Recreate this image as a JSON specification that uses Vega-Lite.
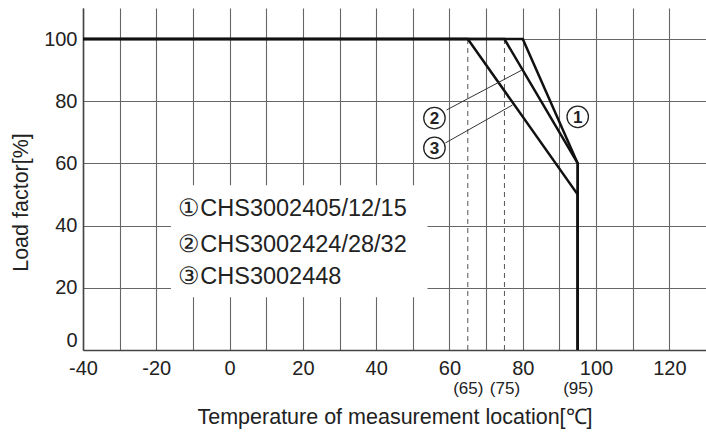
{
  "$schema": "https://vega.github.io/schema/vega-lite/v6.json",
  "width": 623,
  "height": 342,
  "autosize": "none",
  "padding": {"left": 83, "top": 8, "right": 0, "bottom": 83},
  "background": "white",
  "config": {
    "view": {"stroke": null},
    "font": "Liberation Sans",
    "axis": {"labelFont": "Liberation Sans", "titleFont": "Liberation Sans", "labelColor": "#222", "titleColor": "#222", "titleFontWeight": "normal"}
  },
  "datasets": {
    "curves": [
      {"series": "1", "i": 0, "t": -40, "load": 100},
      {"series": "1", "i": 1, "t": 80, "load": 100},
      {"series": "1", "i": 2, "t": 95, "load": 60},
      {"series": "1", "i": 3, "t": 95, "load": 0},
      {"series": "2", "i": 0, "t": -40, "load": 100},
      {"series": "2", "i": 1, "t": 75, "load": 100},
      {"series": "2", "i": 2, "t": 95, "load": 60},
      {"series": "2", "i": 3, "t": 95, "load": 0},
      {"series": "3", "i": 0, "t": -40, "load": 100},
      {"series": "3", "i": 1, "t": 65, "load": 100},
      {"series": "3", "i": 2, "t": 95, "load": 50},
      {"series": "3", "i": 3, "t": 95, "load": 0}
    ],
    "leaders": [
      {"lead": "2", "i": 0, "t": 59.2, "load": 77.2},
      {"lead": "2", "i": 1, "t": 79.7, "load": 90},
      {"lead": "3", "i": 0, "t": 58.9, "load": 66.6},
      {"lead": "3", "i": 1, "t": 77.2, "load": 78.8}
    ],
    "marks": [
      {"num": "1", "t": 95, "load": 75},
      {"num": "2", "t": 55.9, "load": 74.6},
      {"num": "3", "t": 55.9, "load": 65}
    ],
    "legend": [
      {"label": "①CHS3002405/12/15", "t": -14, "load": 45.3},
      {"label": "②CHS3002424/28/32", "t": -14, "load": 33.8},
      {"label": "③CHS3002448", "t": -14, "load": 23.4}
    ],
    "box": [{"t": -16, "t2": 54, "load": 17, "load2": 53}],
    "dashed": [{"t": 65}, {"t": 75}]
  },
  "resolve": {"axis": {"x": "independent"}},
  "layer": [
    {
      "data": {"name": "box"},
      "mark": {"type": "rect", "fill": "white", "stroke": null},
      "encoding": {
        "x": {"field": "t", "type": "quantitative",
          "scale": {"domain": [-40, 130], "nice": false, "zero": false},
          "axis": {
            "orient": "bottom",
            "values": [-40, -30, -20, -10, 0, 10, 20, 30, 40, 50, 60, 70, 80, 90, 100, 110, 120],
            "labelExpr": "datum.value % 20 == 0 ? '' + datum.value : ''",
            "labelFlush": false, "labelOverlap": false,
            "grid": true, "gridColor": "#666", "gridWidth": 1.1,
            "domain": true, "domainColor": "#444", "domainWidth": 1.6,
            "ticks": false, "tickSize": 0,
            "labelFontSize": 20, "labelPadding": 8,
            "title": null
          }
        },
        "x2": {"field": "t2"},
        "y": {"field": "load", "type": "quantitative",
          "scale": {"domain": [0, 110], "nice": false, "zero": false},
          "axis": {
            "values": [0, 10, 20, 30, 40, 50, 60, 70, 80, 90, 100, 110],
            "labelExpr": "datum.value % 20 == 0 && datum.value <= 100 ? '' + datum.value : ''",
            "labelFlush": true, "labelOverlap": false,
            "grid": true, "gridColor": "#666", "gridWidth": 1.1,
            "domain": true, "domainColor": "#444", "domainWidth": 1.6,
            "ticks": false, "tickSize": 0,
            "labelFontSize": 20, "labelPadding": 6,
            "title": "Load factor[%]", "titleFontSize": 21.5, "titlePadding": 11, "titleY": 194
          }
        },
        "y2": {"field": "load2"}
      }
    },
    {
      "data": {"name": "dashed"},
      "mark": {"type": "rule", "color": "#555", "strokeWidth": 1, "strokeDash": [5, 4]},
      "encoding": {
        "x": {"field": "t", "type": "quantitative",
          "axis": {
            "orient": "bottom",
            "values": [65, 75, 95],
            "labelExpr": "'(' + datum.value + ')'",
            "labelFlush": false, "labelOverlap": false,
            "grid": false, "domain": false, "ticks": false, "tickSize": 0,
            "labelFontSize": 17, "labelPadding": 2, "offset": 28,
            "title": "Temperature of measurement location[℃]", "titleFontSize": 21.5, "titlePadding": 10
          }
        },
        "y": {"datum": 0, "type": "quantitative"},
        "y2": {"datum": 100}
      }
    },
    {
      "data": {"name": "curves"},
      "mark": {"type": "line", "color": "#111", "strokeWidth": 2.5, "strokeJoin": "miter"},
      "encoding": {
        "x": {"field": "t", "type": "quantitative", "axis": null},
        "y": {"field": "load", "type": "quantitative"},
        "detail": {"field": "series"},
        "order": {"field": "i"}
      }
    },
    {
      "data": {"name": "leaders"},
      "mark": {"type": "line", "color": "#333", "strokeWidth": 1},
      "encoding": {
        "x": {"field": "t", "type": "quantitative", "axis": null},
        "y": {"field": "load", "type": "quantitative"},
        "detail": {"field": "lead"},
        "order": {"field": "i"}
      }
    },
    {
      "data": {"name": "marks"},
      "mark": {"type": "point", "shape": "circle", "size": 460, "filled": false, "fill": "white", "fillOpacity": 1, "stroke": "#222", "strokeWidth": 1.3, "opacity": 1},
      "encoding": {
        "x": {"field": "t", "type": "quantitative", "axis": null},
        "y": {"field": "load", "type": "quantitative"}
      }
    },
    {
      "data": {"name": "marks"},
      "mark": {"type": "text", "fontSize": 17, "fontWeight": "bold", "font": "Liberation Sans", "color": "#222", "baseline": "middle", "align": "center", "dy": 1},
      "encoding": {
        "x": {"field": "t", "type": "quantitative", "axis": null},
        "y": {"field": "load", "type": "quantitative"},
        "text": {"field": "num"}
      }
    },
    {
      "data": {"name": "legend"},
      "mark": {"type": "text", "fontSize": 23.5, "color": "#222", "baseline": "middle", "align": "left"},
      "encoding": {
        "x": {"field": "t", "type": "quantitative", "axis": null},
        "y": {"field": "load", "type": "quantitative"},
        "text": {"field": "label"}
      }
    }
  ]
}
